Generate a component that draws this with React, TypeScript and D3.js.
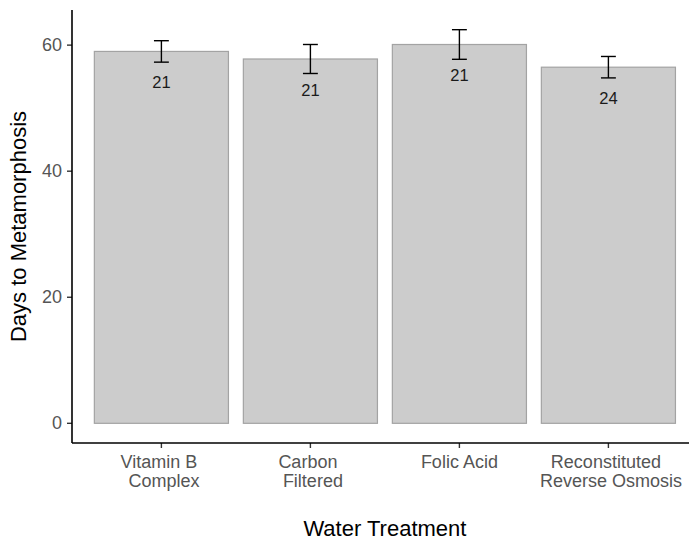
import React from "react";
import * as d3 from "d3";

const treatments = [
  ["Vitamin B ", " Complex"],
  ["Carbon ", " Filtered"],
  ["Folic Acid"],
  ["Reconstituted ", " Reverse Osmosis"],
];
const meanDays = [59.0, 57.8, 60.1, 56.5];
const seDays = [1.7, 2.3, 2.35, 1.7];
const counts = [21, 21, 21, 24];
const yTicks = [0, 20, 40, 60];

const FONT = "'Liberation Sans', Arial, Helvetica, sans-serif";

function App() {
  const width = 689;
  const height = 544;
  const MARGIN = { top: 10, left: 72, bottom: 101 };
  const boundsHeight = height - MARGIN.top - MARGIN.bottom;
  const boundsWidth = 625.8;

  const keys = treatments.map((t) => t.join("|"));

  const xScale = d3
    .scaleBand()
    .domain(keys)
    .range([0, boundsWidth])
    .paddingInner(0.1)
    .paddingOuter(0.15);
  const step = xScale.step();

  const yMax = d3.max(meanDays.map((m, i) => m + seDays[i])) ?? 0;
  const pad = yMax * 0.05;
  const yScale = d3
    .scaleLinear()
    .domain([-pad, yMax + pad])
    .range([boundsHeight, 0]);

  const bars = keys.map((k, i) => {
    const x = xScale(k) ?? 0;
    const cx = x + xScale.bandwidth() / 2;
    const capW = step * 0.1;
    const top = yScale(meanDays[i] + seDays[i]);
    const bot = yScale(meanDays[i] - seDays[i]);
    return (
      <g key={k}>
        <rect
          x={x}
          y={yScale(meanDays[i])}
          width={xScale.bandwidth()}
          height={yScale(0) - yScale(meanDays[i])}
          fill="#cccccc"
          stroke="#a3a3a3"
          strokeWidth={1.2}
        />
        <g stroke="#000" strokeWidth={1.4}>
          <line x1={cx} x2={cx} y1={top} y2={bot} />
          <line x1={cx - capW / 2} x2={cx + capW / 2} y1={top} y2={top} />
          <line x1={cx - capW / 2} x2={cx + capW / 2} y1={bot} y2={bot} />
        </g>
        <text
          x={cx}
          y={yScale(meanDays[i]) + 37}
          textAnchor="middle"
          fontSize={16.5}
          fill="#1a1a1a"
        >
          {counts[i]}
        </text>
      </g>
    );
  });

  const xLabels = treatments.map((lines, i) => {
    const cx = (xScale(keys[i]) ?? 0) + xScale.bandwidth() / 2;
    return (
      <g key={i}>
        <line x1={cx} x2={cx} y1={boundsHeight} y2={boundsHeight + 5} stroke="#333" strokeWidth={1.4} />
        {lines.map((line, j) => (
          <text
            key={j}
            x={cx}
            y={boundsHeight + 24.5 + j * 19.5}
            textAnchor="middle"
            fontSize={18}
            fill="#555"
            style={{ whiteSpace: "pre" }}
          >
            {line}
          </text>
        ))}
      </g>
    );
  });

  const yLabels = yTicks.map((t) => (
    <g key={t} transform={`translate(0,${yScale(t)})`}>
      <line x1={-5} x2={0} stroke="#333" strokeWidth={1.4} />
      <text x={-10} textAnchor="end" dominantBaseline="central" fontSize={18} fill="#555">
        {t}
      </text>
    </g>
  ));

  return (
    <svg
      width={width}
      height={height}
      style={{ position: "absolute", left: 0, top: 0, background: "#fff" }}
      fontFamily={FONT}
    >
      <g transform={`translate(${MARGIN.left},${MARGIN.top})`}>
        {bars}
        {xLabels}
        {yLabels}
        <line x1={0} x2={0} y1={0} y2={boundsHeight} stroke="#000" strokeWidth={1.6} />
        <line x1={0} x2={boundsWidth} y1={boundsHeight} y2={boundsHeight} stroke="#000" strokeWidth={1.6} />
        <text
          x={boundsWidth / 2}
          y={boundsHeight + 93}
          textAnchor="middle"
          fontSize={22}
          fill="#000"
        >
          Water Treatment
        </text>
        <text
          transform={`translate(${26 - MARGIN.left},${boundsHeight / 2}) rotate(-90)`}
          textAnchor="middle"
          fontSize={22}
          fill="#000"
        >
          Days to Metamorphosis
        </text>
      </g>
    </svg>
  );
}

export default App;
